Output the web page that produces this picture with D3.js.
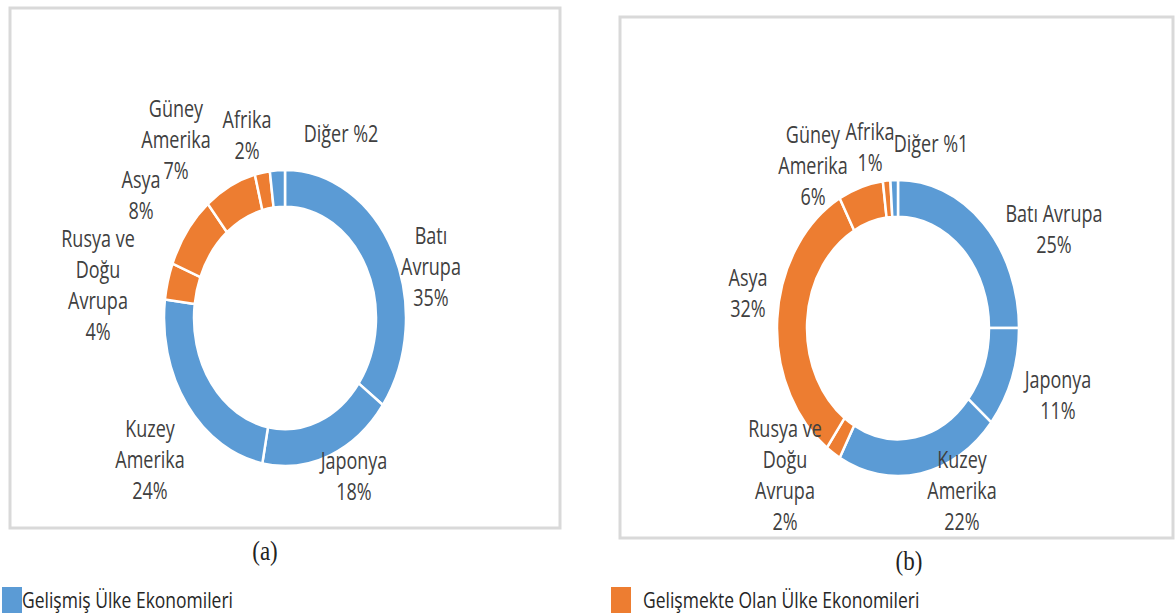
<!DOCTYPE html>
<html>
<head>
<meta charset="utf-8">
<script src="https://cdn.jsdelivr.net/npm/d3@7"></script>
<style>
    body { margin: 0; background: #fff; }
    text { font-family: "Open Sans", "Noto Sans", sans-serif; }
</style>
</head>
<body>
<svg id="chart" width="1176" height="615"></svg>
<script>
// data
var regions = ["Batı Avrupa", "Japonya", "Kuzey Amerika", "Rusya ve Doğu Avrupa", "Asya", "Güney Amerika", "Afrika", "Diğer"];
var regionGroup = ["dev", "dev", "dev", "emg", "emg", "emg", "emg", "dev"];
var sharesA = [35, 18, 24, 4, 8, 7, 2, 2];
var sharesB = [25, 11, 22, 2, 32, 6, 1, 1];
var groupKeys = ["dev", "emg"];
var groupNames = ["Gelişmiş Ülke Ekonomileri", "Gelişmekte Olan Ülke Ekonomileri"];

// how each label is broken into lines, and where it sits (relative to donut centre)
var wrapA = [["Batı", "Avrupa"], ["Japonya"], ["Kuzey", "Amerika"], ["Rusya ve", "Doğu", "Avrupa"], ["Asya"], ["Güney", "Amerika"], ["Afrika"], ["Diğer"]];
var wrapB = [["Batı Avrupa"], ["Japonya"], ["Kuzey", "Amerika"], ["Rusya ve", "Doğu", "Avrupa"], ["Asya"], ["Güney", "Amerika"], ["Afrika"], ["Diğer"]];
var posA = [[146, -74], [69, 151], [-135, 119], [-187, -71], [-144, -130], [-109, -201], [-38, -190], [56, -176]];
var posB = [[156, -106], [160, 60], [64, 140], [-113, 109], [-150, -42], [-85, -185], [-28, -188], [33, -176]];

var color = d3.scaleOrdinal().domain(groupKeys).range(["#5B9BD5", "#ED7D31"]);

var svg = d3.select("#chart");
var SY = 1.223;      // the figure is stretched vertically
var TY = 1.29;       // text stretch
var LINE = 31;

function drawDonut(cfg){
    svg.append("rect")
        .attr("x", cfg.box[0]).attr("y", cfg.box[1])
        .attr("width", cfg.box[2]).attr("height", cfg.box[3])
        .attr("fill", "#fff")
        .attr("stroke", "#d9d9d9")
        .attr("stroke-width", 3);

    var pie = d3.pie().sort(null).value(function(d){ return d; });
    var arc = d3.arc().innerRadius(91).outerRadius(121);
    var arcs = pie(cfg.values);

    var g = svg.append("g")
        .attr("transform", "translate(" + cfg.cx + "," + cfg.cy + ")");

    g.append("g")
        .attr("transform", "scale(1," + SY + ")")
      .selectAll("path")
      .data(arcs)
      .enter().append("path")
        .attr("d", arc)
        .attr("fill", function(d, i){ return color(regionGroup[i]); })
        .attr("stroke", "#fff")
        .attr("stroke-width", 2.5)
        .attr("vector-effect", "non-scaling-stroke");

    arcs.forEach(function(d, i){
        var lines = cfg.wrap[i].slice();
        if (regions[i] == "Diğer") {
            lines = [lines[0] + " %" + cfg.values[i]];
        } else {
            lines.push(cfg.values[i] + "%");
        }
        lines.forEach(function(t, j){
            g.append("text")
                .attr("transform", "translate(" + cfg.pos[i][0] + "," + (cfg.pos[i][1] + j * LINE) + ") scale(1," + TY + ")")
                .attr("text-anchor", "middle")
                .attr("font-size", 18)
                .attr("fill", "#404040")
                .text(t);
        });
    });

    svg.append("text")
        .attr("transform", "translate(" + cfg.cap[0] + "," + cfg.cap[1] + ") scale(1,1.15)")
        .attr("text-anchor", "middle")
        .style("font-family", "'Liberation Serif', 'DejaVu Serif', serif")
        .attr("font-size", 23)
        .attr("fill", "#222")
        .text(cfg.caption);
}

drawDonut({ box: [10, 8, 550, 520], cx: 285, cy: 318, values: sharesA, wrap: wrapA, pos: posA, cap: [265, 560], caption: "(a)" });
drawDonut({ box: [620, 17, 553, 521], cx: 898, cy: 328, values: sharesB, wrap: wrapB, pos: posB, cap: [909, 570], caption: "(b)" });

// legend
var legX = [2, 611];
groupKeys.forEach(function(k, i){
    svg.append("rect")
        .attr("x", legX[i]).attr("y", 587)
        .attr("width", 20).attr("height", 26)
        .attr("fill", color(k));
    svg.append("text")
        .attr("transform", "translate(" + (legX[i] + (i == 0 ? 20 : 32)) + ",608) scale(1," + TY + ")")
        .attr("font-size", 17.5)
        .attr("fill", "#262626")
        .text(groupNames[i]);
});
</script>
</body>
</html>
